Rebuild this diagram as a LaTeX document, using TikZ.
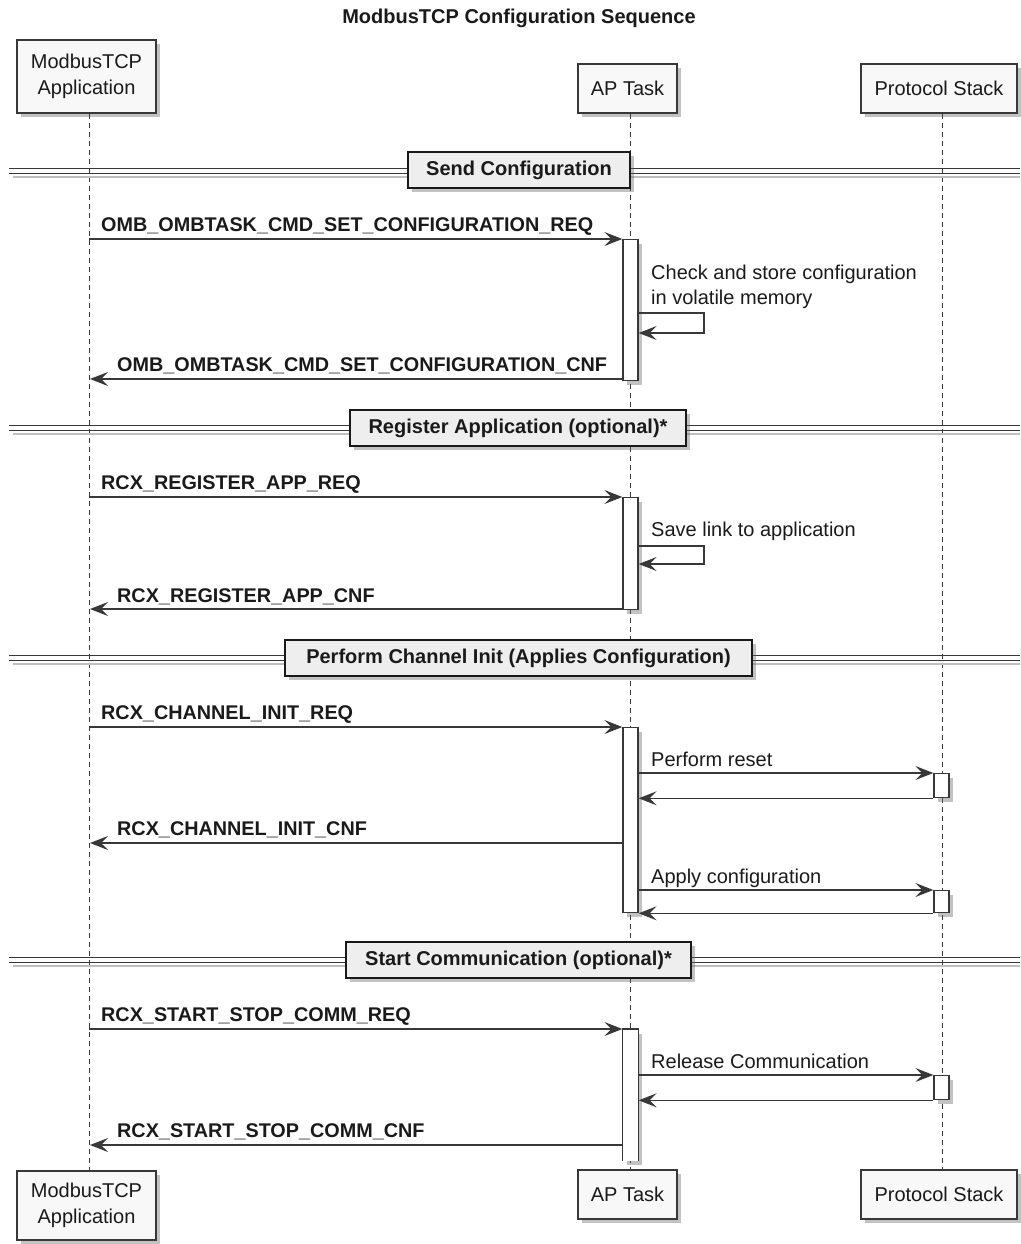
\documentclass[tikz,border=0pt]{standalone}
\usepackage{fontspec}
\setmainfont{Liberation Sans}
\usetikzlibrary{arrows.meta,shadows}
\definecolor{ink}{HTML}{383838}
\definecolor{partfill}{HTML}{F8F8F8}
\definecolor{divfill}{HTML}{EEEEEE}
\definecolor{txt}{HTML}{1A1A1A}
\begin{document}
\begin{tikzpicture}[x=1pt,y=-1pt,
  every node/.style={font=\fontsize{20}{26}\selectfont, text=txt},
  shade/.style={drop shadow={shadow xshift=4pt, shadow yshift=-4pt, opacity=0.4, fill=black!60}},
  participant/.style={draw=ink, fill=partfill, line width=1.5pt, shade, align=center, inner sep=0pt},
  act/.style={draw=ink, fill=white, line width=1.3pt, shade, minimum width=15pt, inner sep=0pt, anchor=north},
  lifeline/.style={draw=ink, line width=1pt, dash pattern=on 5pt off 4pt},
  msg/.style={draw=ink, line width=1.3pt, -{Stealth[length=18pt,width=14pt,inset=7pt]}},
  lbl/.style={anchor=base west, inner sep=0pt},
  msglbl/.style={lbl, font=\fontsize{19.8}{26}\selectfont\bfseries},
  divbox/.style={draw=black!90, fill=divfill, line width=2pt, shade, minimum height=36pt, inner sep=0pt, font=\fontsize{20}{26}\selectfont\bfseries},
  divline/.style={draw=ink, line width=1.3pt},
  divshadow/.style={draw=black!25, line width=2.5pt},
]
\useasboundingbox (0,0) rectangle (1020,1244);

% title
\node[anchor=base, inner sep=0pt, font=\fontsize{20}{26}\selectfont\bfseries] (title) at (519,24) {ModbusTCP Configuration Sequence};

% lifeline x positions
\coordinate (lA) at (89,0);
\coordinate (lB) at (630.5,0);
\coordinate (lC) at (942,0);

% participants
\node[participant, minimum width=139pt, minimum height=73pt] (mtT) at (86.5,76.5) {ModbusTCP\\ Application};
\node[participant, minimum width=99pt, minimum height=49pt] (apT) at (627.5,88.5) {AP Task};
\node[participant, minimum width=156pt, minimum height=49pt] (psT) at (939,88.5) {Protocol Stack};
\node[participant, minimum width=139pt, minimum height=69pt] (mtB) at (86.5,1205.5) {ModbusTCP\\ Application};
\node[participant, minimum width=99pt, minimum height=49pt] (apB) at (627.5,1194.5) {AP Task};
\node[participant, minimum width=156pt, minimum height=49pt] (psB) at (939,1194.5) {Protocol Stack};

% lifelines
\draw[lifeline] (mtT.south -| lA) -- (mtB.north -| lA);
\draw[lifeline] (apT.south -| lB) -- (apB.north -| lB);
\draw[lifeline] (psT.south -| lC) -- (psB.north -| lC);

% section dividers
\foreach \c in {171,428,658,960}{
  \draw[divshadow] (13,\c+6) -- (1020,\c+6);
  \draw[divline] (9,\c-2.4) -- (1020,\c-2.4);
  \draw[divline] (9,\c+2.4) -- (1020,\c+2.4);
}
\node[divbox, minimum width=222pt] (d1) at (519,170) {Send Configuration};
\node[divbox, minimum width=336pt] (d2) at (518,428) {Register Application (optional)*};
\node[divbox, minimum width=467pt] (d3) at (518.5,658) {Perform Channel Init (Applies Configuration)};
\node[divbox, minimum width=345pt] (d4) at (518.5,960) {Start Communication (optional)*};

% ---- Send Configuration
\node[act, minimum height=141pt] (act1) at (630.5,239) {};
\coordinate (s1) at (89,239);
\coordinate (e1) at (90,379);
\draw[msg] (s1) -- (act1.north west);
\node[msglbl] (t1) at (101,231) {OMB\_OMBTASK\_CMD\_SET\_CONFIGURATION\_REQ};
\node[lbl] (t1a) at (651,279) {Check and store configuration};
\node[lbl] (t1b) at (651,304) {in volatile memory};
\draw[msg] (act1.east |- 0,313) -- (704,313) -- (704,333) -- (act1.east |- 0,333);
\draw[msg] (act1.west |- e1) -- (e1);
\node[msglbl] (t2) at (117,371) {OMB\_OMBTASK\_CMD\_SET\_CONFIGURATION\_CNF};

% ---- Register Application
\node[act, minimum height=112pt] (act2) at (630.5,497) {};
\coordinate (s2) at (89,497);
\coordinate (e2) at (90,609);
\draw[msg] (s2) -- (act2.north west);
\node[msglbl] (t3) at (101,489) {RCX\_REGISTER\_APP\_REQ};
\node[lbl] (t3a) at (651,536) {Save link to application};
\draw[msg] (act2.east |- 0,546) -- (704,546) -- (704,564) -- (act2.east |- 0,564);
\draw[msg] (act2.west |- e2) -- (e2);
\node[msglbl] (t4) at (117,602) {RCX\_REGISTER\_APP\_CNF};

% ---- Perform Channel Init
\node[act, minimum height=185pt] (act3) at (630.5,727) {};
\node[act, minimum height=24pt] (ps1) at (941.5,773) {};
\node[act, minimum height=22pt] (ps2) at (941.5,890) {};
\coordinate (s3) at (89,727);
\coordinate (e3) at (90,843);
\draw[msg] (s3) -- (act3.north west);
\node[msglbl] (t5) at (101,719) {RCX\_CHANNEL\_INIT\_REQ};
\node[lbl] (t5a) at (651,766) {Perform reset};
\draw[msg] (act3.east |- ps1.north) -- (ps1.north west);
\draw[msg] (ps1.south west) -- (act3.east |- ps1.south);
\draw[msg] (act3.west |- e3) -- (e3);
\node[msglbl] (t6) at (117,835) {RCX\_CHANNEL\_INIT\_CNF};
\node[lbl] (t6a) at (651,883) {Apply configuration};
\draw[msg] (act3.east |- ps2.north) -- (ps2.north west);
\draw[msg] (ps2.south west) -- (act3.south east);

% ---- Start Communication
\node[act, draw=none, minimum height=131pt] (act4) at (630.5,1029) {};
\draw[ink, line width=1.3pt] (act4.south west) -- (act4.north west) -- (act4.north east) -- (act4.south east);
\node[act, minimum height=24pt] (ps3) at (941.5,1075) {};
\coordinate (s4) at (89,1029);
\coordinate (e4) at (90,1145);
\draw[msg] (s4) -- (act4.north west);
\node[msglbl] (t7) at (101,1021) {RCX\_START\_STOP\_COMM\_REQ};
\node[lbl] (t7a) at (651,1068) {Release Communication};
\draw[msg] (act4.east |- ps3.north) -- (ps3.north west);
\draw[msg] (ps3.south west) -- (act4.east |- ps3.south);
\draw[msg] (act4.west |- e4) -- (e4);
\node[msglbl] (t8) at (117,1137) {RCX\_START\_STOP\_COMM\_CNF};

\end{tikzpicture}
\end{document}
